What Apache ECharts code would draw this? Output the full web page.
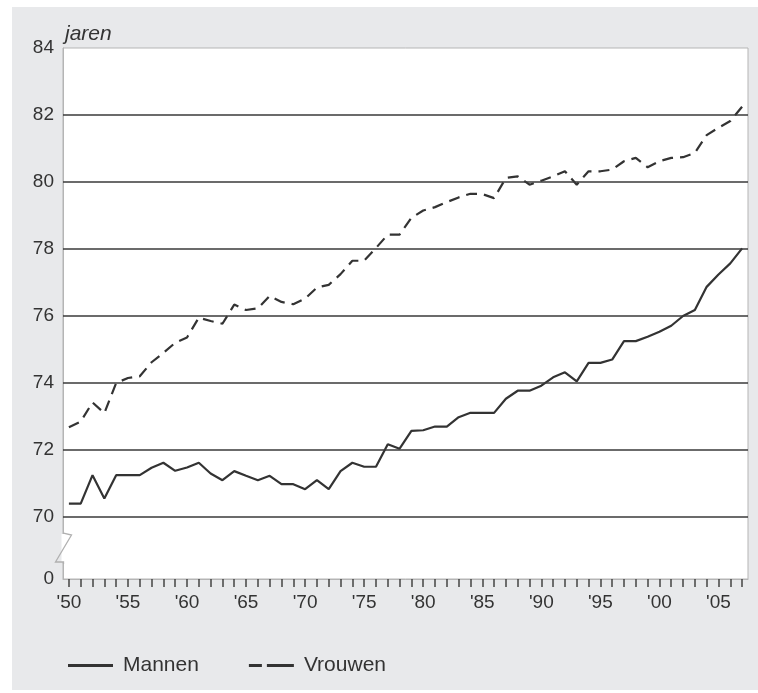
<!DOCTYPE html>
<html>
<head>
<meta charset="utf-8">
<script src="https://cdn.jsdelivr.net/npm/echarts@6/dist/echarts.min.js"></script>
<style>
  html, body { margin: 0; padding: 0; background: #ffffff; }
  #wrap { position: relative; width: 758px; height: 693px; background: #ffffff; overflow: hidden; }
  #panel { position: absolute; left: 12px; top: 7px; width: 746px; height: 683px; background: #e8e9eb; }
  #chart { position: absolute; left: 0; top: 0; width: 758px; height: 693px; }
</style>
</head>
<body>
<div id="wrap"><div id="panel"></div><div id="chart"></div></div>
<script>
// ---- data ----
const years = [1950,1951,1952,1953,1954,1955,1956,1957,1958,1959,
               1960,1961,1962,1963,1964,1965,1966,1967,1968,1969,
               1970,1971,1972,1973,1974,1975,1976,1977,1978,1979,
               1980,1981,1982,1983,1984,1985,1986,1987,1988,1989,
               1990,1991,1992,1993,1994,1995,1996,1997,1998,1999,
               2000,2001,2002,2003,2004,2005,2006,2007];
const mannen = [70.40,70.40,71.25,70.55,71.25,71.25,71.25,71.47,71.62,71.38,
                71.48,71.62,71.30,71.10,71.37,71.23,71.10,71.23,70.98,70.98,
                70.83,71.10,70.83,71.37,71.62,71.50,71.50,72.17,72.04,72.57,
                72.59,72.70,72.70,72.98,73.11,73.11,73.11,73.53,73.77,73.77,
                73.92,74.17,74.32,74.05,74.60,74.60,74.70,75.25,75.25,75.38,
                75.53,75.71,76.00,76.18,76.87,77.24,77.57,78.02];
const vrouwen = [72.68,72.85,73.42,73.10,74.00,74.15,74.20,74.62,74.90,75.20,
                 75.36,75.95,75.85,75.77,76.34,76.18,76.23,76.60,76.42,76.35,
                 76.52,76.85,76.93,77.25,77.65,77.65,78.03,78.43,78.43,78.93,
                 79.15,79.25,79.40,79.54,79.65,79.64,79.52,80.12,80.17,79.92,
                 80.04,80.17,80.32,79.92,80.32,80.32,80.37,80.62,80.72,80.44,
                 80.62,80.72,80.74,80.87,81.40,81.62,81.82,82.25];
const yTicks = [70, 72, 74, 76, 78, 80, 82, 84];
const gridLineValues = [70, 72, 74, 76, 78, 80, 82];
const breakValue = 68.15;   // position on the broken axis that carries the label "0"
const breakLabel = '0';
const seriesNames = ['Mannen', 'Vrouwen'];
const unitLabel = 'jaren';

const FONT = '"Liberation Sans", Arial, Helvetica, sans-serif';
const chart = echarts.init(document.getElementById('chart'), null, { renderer: 'canvas' });

const option = {
  backgroundColor: 'transparent',
  animation: false,
  title: {
    text: unitLabel,
    left: 60, top: 19,
    textStyle: { fontFamily: FONT, fontStyle: 'italic', fontWeight: 'normal', fontSize: 21, color: '#333' }
  },
  legend: {
    left: 63, top: 650,
    itemWidth: 45, itemHeight: 3, itemGap: 50,
    textStyle: { fontFamily: FONT, fontSize: 21, color: '#333', padding: [0, 0, 0, 5] },
    data: [
      { name: seriesNames[0], icon: 'path://M0,0H45V3H0Z' },
      { name: seriesNames[1], icon: 'path://M0,0H13V3H0Z M18,0H45V3H18Z' }
    ]
  },
  grid: {
    left: 63, right: 10, top: 48, bottom: 114,
    show: true, backgroundColor: '#ffffff', borderColor: '#b5b5b5', borderWidth: 1
  },
  xAxis: {
    type: 'category',
    data: years,
    boundaryGap: true,
    axisLine: { show: true, lineStyle: { color: '#b5b5b5', width: 1 } },
    axisTick: { show: true, alignWithLabel: true, interval: 0, length: 8, lineStyle: { color: '#444', width: 1.5 } },
    axisLabel: {
      interval: (i, v) => Number(v) % 5 === 0,
      formatter: v => "'" + String(v).slice(2),
      fontFamily: FONT, fontSize: 19, color: '#333', margin: 14
    },
    splitLine: { show: false }
  },
  yAxis: {
    type: 'value',
    min: breakValue, max: 84,
    axisLine: { show: true, lineStyle: { color: '#b5b5b5', width: 1 } },
    axisTick: { show: false },
    splitLine: { show: false },
    axisLabel: {
      customValues: [breakValue].concat(yTicks),
      formatter: v => (v < 69 ? breakLabel : String(v)),
      fontFamily: FONT, fontSize: 19, color: '#333', margin: 9
    }
  },
  series: [
    {
      name: seriesNames[0], type: 'line', data: mannen,
      symbol: 'none', z: 3,
      lineStyle: { color: '#333', width: 2.2, type: 'solid' },
      itemStyle: { color: '#333' },
      markLine: {
        silent: true, symbol: 'none', label: { show: false },
        lineStyle: { color: '#3a3a3a', width: 1.6, type: 'solid' },
        data: gridLineValues.map(v => ({ yAxis: v }))
      }
    },
    {
      name: seriesNames[1], type: 'line', data: vrouwen,
      symbol: 'none', z: 3,
      lineStyle: { color: '#333', width: 2.2, type: [11, 7] },
      itemStyle: { color: '#333' }
    }
  ]
};
chart.setOption(option);

// axis-break marker between 70 and the "0" label
const x0 = 63.5;
const yTop = chart.convertToPixel({ yAxisIndex: 0 }, 70) + 17;
const yBot = chart.convertToPixel({ yAxisIndex: 0 }, breakValue) - 17;
chart.setOption({
  graphic: [
    { type: 'rect', shape: { x: x0 - 2, y: yTop, width: 3, height: yBot - yTop }, style: { fill: '#ffffff' }, z: 100 },
    { type: 'polyline', shape: { points: [[x0, yTop - 1], [x0 + 8, yTop + 1], [x0 - 8, yBot], [x0, yBot], [x0, yBot + 2]] },
      style: { stroke: '#b0b0b0', lineWidth: 1.3, fill: null }, z: 101 }
  ]
});
</script>
</body>
</html>
